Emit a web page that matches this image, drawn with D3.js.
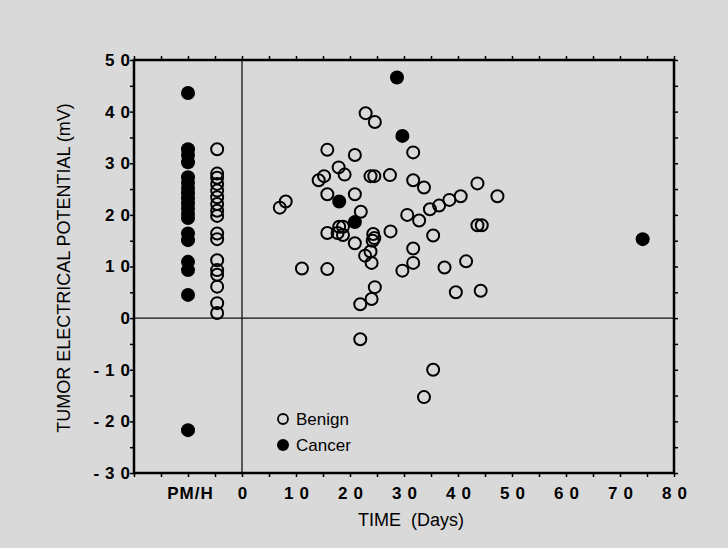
<!DOCTYPE html>
<html lang="en">
<head>
<meta charset="UTF-8">
<title>Tumor electrical potential</title>
<script src="https://d3js.org/d3.v7.min.js"></script>
<style>
  body { margin: 0; background: #d9d9d9; }
  svg { display: block; }
  .tick text { font-family: "Liberation Sans", Arial, sans-serif; font-weight: bold; font-size: 17px; letter-spacing: 6px; fill: #000; }
  .title { font-family: "Liberation Sans", Arial, sans-serif; font-size: 18px; fill: #000; }
</style>
</head>
<body>
<svg id="chart" width="728" height="548"></svg>
<script>
// benign lesions, measured after day 0
const benignDays = [22.9, 24.6, 15.8, 20.9, 31.7, 17.9, 19.0, 15.2, 14.2, 23.8, 24.5, 27.4, 31.7, 33.7, 43.6,
  15.8, 20.9, 40.5, 47.3, 38.4, 36.5, 34.8, 8.1, 7.0, 22.0, 30.6, 32.8, 18.0, 18.7, 43.6, 44.4,
  15.8, 17.7, 18.7, 24.3, 24.5, 24.2, 27.5, 35.4, 20.9, 23.8, 22.8, 31.7, 24.0, 11.1, 15.8, 29.7,
  31.7, 37.5, 41.5, 24.6, 24.0, 21.9, 39.6, 44.2, 21.9, 35.4, 33.7];
const benignMV = [39.7, 38.0, 32.6, 31.6, 32.1, 29.2, 27.8, 27.5, 26.7, 27.5, 27.5, 27.7, 26.7, 25.3, 26.1,
  24.0, 24.0, 23.6, 23.6, 22.9, 21.8, 21.1, 22.6, 21.4, 20.6, 20.0, 18.9, 17.7, 17.7, 18.0, 18.0,
  16.5, 16.5, 16.1, 16.3, 15.5, 15.0, 16.8, 16.0, 14.5, 12.9, 12.1, 13.5, 10.7, 9.6, 9.5, 9.2,
  10.7, 9.8, 11.0, 6.0, 3.7, 2.7, 5.0, 5.3, -4.1, -10.0, -15.3];

// cancers, measured after day 0
const cancerDays = [28.7, 29.7, 18.0, 20.9, 74.2];
const cancerMV = [46.6, 35.3, 22.6, 18.6, 15.3];

// PM/H column values
const pmhBenignMV = [32.7, 28.0, 27.2, 26.0, 24.7, 23.4, 22.1, 20.8, 19.8, 16.4, 15.3, 11.2, 9.3, 8.4, 6.1, 2.9, 1.0];
const pmhCancerMV = [43.6, 32.7, 31.6, 30.2, 27.3, 26.2, 25.2, 24.2, 23.2, 22.2, 21.2, 20.2, 19.4, 16.4, 15.1, 10.9, 9.3, 4.5, -21.7];

const yTicks = [-30, -20, -10, 0, 10, 20, 30, 40, 50];
const xTicks = [0, 10, 20, 30, 40, 50, 60, 70, 80];
const pmhLabel = "PM/H";
const legendLabels = ["Benign", "Cancer"];

const width = 728, height = 548;
const mLeft = 134, mRight = 674, mTop = 60, mBottom = 473;
const pmhCancerX = -10, pmhBenignX = -4.6;

const x = d3.scaleLinear().domain([-20, 80]).range([mLeft, mRight]);
const y = d3.scaleLinear().domain([-30, 50]).range([mBottom, mTop]);

const svg = d3.select("#chart");
svg.append("rect").attr("width", width).attr("height", height).attr("fill", "#d9d9d9");

// zero lines
svg.append("line")
  .attr("x1", x(0)).attr("x2", x(0)).attr("y1", mTop).attr("y2", mBottom)
  .attr("stroke", "#111").attr("stroke-width", 1.3);
svg.append("line")
  .attr("x1", mLeft).attr("x2", mRight).attr("y1", y(0)).attr("y2", y(0))
  .attr("stroke", "#111").attr("stroke-width", 1.3);

const stepX = d3.range(-20, 81, 5);
const stepY = d3.range(-30, 51, 5);

const xBottom = svg.append("g").attr("transform", `translate(0,${mBottom})`)
  .call(d3.axisBottom(x).tickValues(stepX).tickSize(4).tickSizeOuter(0).tickPadding(10)
    .tickFormat(d => d === -10 ? pmhLabel : (xTicks.includes(d) ? d : "")));
xBottom.selectAll(".tick text").attr("dx", "3px");
xBottom.selectAll(".tick text").filter(d => d === -10).style("letter-spacing", "1px").attr("dx", "2px");

svg.append("g").attr("transform", `translate(0,${mTop})`)
  .call(d3.axisTop(x).tickValues(stepX).tickSize(4).tickSizeOuter(0).tickFormat(""));

const yLeft = svg.append("g").attr("transform", `translate(${mLeft},0)`)
  .call(d3.axisLeft(y).tickValues(stepY).tickSize(4).tickSizeOuter(0)
    .tickFormat(d => yTicks.includes(d) ? d : ""));
yLeft.selectAll(".tick text").attr("x", 2);

svg.append("g").attr("transform", `translate(${mRight},0)`)
  .call(d3.axisRight(y).tickValues(stepY).tickSize(4).tickSizeOuter(0).tickFormat(""));

svg.selectAll(".domain").remove();
svg.selectAll(".tick line").attr("stroke", "#000").attr("stroke-width", 1.5);

// frame
svg.append("rect")
  .attr("x", mLeft).attr("y", mTop).attr("width", mRight - mLeft).attr("height", mBottom - mTop)
  .attr("fill", "none").attr("stroke", "#000").attr("stroke-width", 2.5);

// benign points
const benign = benignDays.map((d, i) => ({ day: d, mv: benignMV[i] }))
  .concat(pmhBenignMV.map(v => ({ day: pmhBenignX, mv: v })));
svg.append("g").selectAll("circle")
  .data(benign)
  .enter().append("circle")
  .attr("cx", d => x(d.day))
  .attr("cy", d => y(d.mv))
  .attr("r", 6)
  .attr("fill", "none")
  .attr("stroke", "#000")
  .attr("stroke-width", 2);

// cancer points
const cancer = cancerDays.map((d, i) => ({ day: d, mv: cancerMV[i] }))
  .concat(pmhCancerMV.map(v => ({ day: pmhCancerX, mv: v })));
svg.append("g").selectAll("circle")
  .data(cancer)
  .enter().append("circle")
  .attr("cx", d => x(d.day))
  .attr("cy", d => y(d.mv))
  .attr("r", 7)
  .attr("fill", "#000");

// legend
const legend = svg.append("g").attr("transform", "translate(283,419)");
legend.append("circle").attr("r", 5).attr("fill", "none").attr("stroke", "#000").attr("stroke-width", 1.8);
legend.append("circle").attr("cy", 26).attr("r", 6).attr("fill", "#000");
legend.selectAll("text")
  .data(legendLabels)
  .enter().append("text")
  .attr("class", "title")
  .attr("x", 13)
  .attr("y", (d, i) => 6 + i * 26)
  .style("font-size", "17px")
  .text(d => d);

// axis titles
svg.append("text")
  .attr("class", "title")
  .attr("transform", "translate(70,268) rotate(-90)")
  .attr("text-anchor", "middle")
  .text("TUMOR ELECTRICAL POTENTIAL (mV)");

svg.append("text")
  .attr("class", "title")
  .attr("x", 411)
  .attr("y", 526)
  .attr("text-anchor", "middle")
  .style("white-space", "pre")
  .text("TIME  (Days)");
</script>
</body>
</html>
